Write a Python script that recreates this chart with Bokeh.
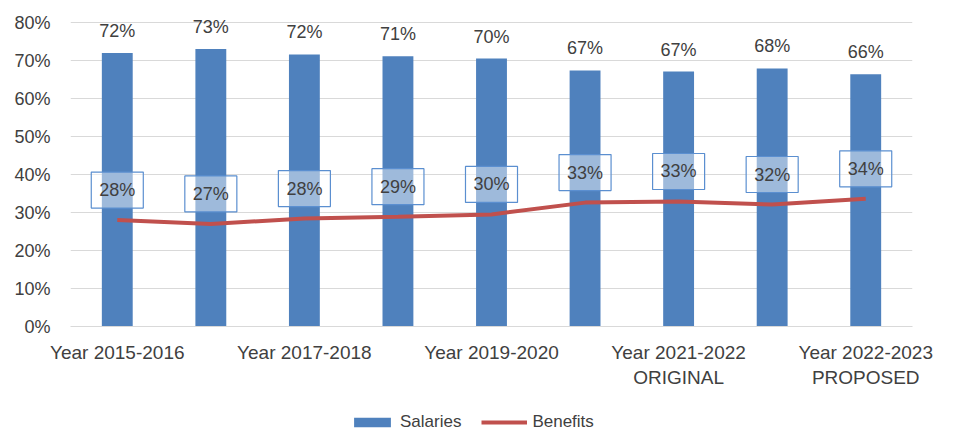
from bokeh.plotting import figure
from bokeh.models import (ColumnDataSource, Range1d, FixedTicker, NumeralTickFormatter,
                          Legend, LegendItem)
from bokeh.layouts import column
from bokeh.core.properties import value
from bokeh.embed import file_html
from bokeh.resources import INLINE

categories = ["Year 2015-2016", "Year 2016-2017", "Year 2017-2018", "Year 2018-2019",
              "Year 2019-2020", "Year 2020-2021", "Year 2021-2022\nORIGINAL",
              "Year 2021-2022\nREVISED", "Year 2022-2023\nPROPOSED"]
shown_labels = ["Year 2015-2016", "", "Year 2017-2018", "", "Year 2019-2020", "",
                "Year 2021-2022\nORIGINAL", "", "Year 2022-2023\nPROPOSED"]
salaries = [0.720, 0.730, 0.716, 0.711, 0.705, 0.674, 0.671, 0.679, 0.664]
benefits = [0.280, 0.270, 0.284, 0.289, 0.295, 0.326, 0.329, 0.321, 0.336]
y_ticks = [0, 0.1, 0.2, 0.3, 0.4, 0.5, 0.6, 0.7, 0.8]

FONT = "Liberation Sans"
TXT = "#404040"
BLUE = "#4f81bd"
RED = "#c0504d"

idx = list(range(len(categories)))
src = ColumnDataSource(dict(
    x=idx, sal=salaries, ben=benefits,
    sal_lbl=[f"{round(v*100):d}%" for v in salaries],
    ben_lbl=[f"{round(v*100):d}%" for v in benefits],
))

# frame extends 12px above the 80% gridline so the top data labels are not clipped
p = figure(width=946, height=408, x_range=Range1d(-0.5, len(categories) - 0.5),
           y_range=Range1d(0, 0.8 + 12 / 380), output_backend="svg", toolbar_location=None,
           min_border_left=70, min_border_right=34, min_border_top=10, min_border_bottom=82)
p.outline_line_color = None
p.background_fill_color = "white"

p.vbar(x="x", top="sal", width=0.33, source=src, fill_color=BLUE, line_color=None)
p.line(x="x", y="ben", source=src, line_color=RED, line_width=4)

p.text(x="x", y="sal", text="sal_lbl", source=src, text_align="center",
       text_baseline="middle", y_offset=-22, text_font=value(FONT),
       text_font_size="18px", text_color=TXT)
p.text(x="x", y="ben", text="ben_lbl", source=src, text_align="center",
       text_baseline="middle", y_offset=-30, text_font=value(FONT),
       text_font_size="18px", text_color=TXT,
       background_fill_color="white", background_fill_alpha=0.45,
       border_line_color="#5b8fd0", border_line_width=1.2,
       padding=8)

p.yaxis.ticker = FixedTicker(ticks=y_ticks)
p.yaxis.formatter = NumeralTickFormatter(format="0%")
p.yaxis.axis_line_color = None
p.yaxis.major_tick_line_color = None
p.yaxis.minor_tick_line_color = None
p.yaxis.major_tick_out = 0
p.yaxis.major_tick_in = 0
p.yaxis.major_label_text_font = FONT
p.yaxis.major_label_text_font_size = "18px"
p.yaxis.major_label_text_color = TXT
p.yaxis.major_label_standoff = 20

p.xaxis.ticker = FixedTicker(ticks=idx)
p.xaxis.major_label_overrides = {i: s for i, s in zip(idx, shown_labels)}
p.xaxis.axis_line_color = "#d9d9d9"
p.xaxis.major_tick_line_color = None
p.xaxis.minor_tick_line_color = None
p.xaxis.major_tick_out = 0
p.xaxis.major_tick_in = 0
p.xaxis.major_label_text_font = FONT
p.xaxis.major_label_text_font_size = "19px"
p.xaxis.major_label_text_color = TXT
p.xaxis.major_label_standoff = 15

p.xgrid.grid_line_color = None
p.ygrid.grid_line_color = "#d9d9d9"
p.ygrid.grid_line_width = 1

# legend strip below the chart; its renderers share the data but lie outside its view
lf = figure(width=946, height=24, output_backend="svg", toolbar_location=None,
            x_range=Range1d(-0.5, len(categories) - 0.5), y_range=Range1d(5, 6),
            min_border_left=0, min_border_right=0, min_border_top=0, min_border_bottom=0)
lf.axis.visible = False
lf.grid.visible = False
lf.outline_line_color = None
lbar = lf.vbar(x="x", top="sal", width=0.33, source=src, fill_color=BLUE, line_color=None)
lline = lf.line(x="x", y="ben", source=src, line_color=RED, line_width=4)
legend = Legend(items=[LegendItem(label="Salaries", renderers=[lbar]),
                       LegendItem(label="Benefits", renderers=[lline])],
                orientation="horizontal", location=(279, 0),
                label_text_font=FONT, label_text_font_size="17px",
                label_text_color=TXT, glyph_width=46, glyph_height=12,
                spacing=20, label_standoff=5, border_line_color=None,
                background_fill_alpha=0, margin=0, padding=2)
lf.add_layout(legend)

open("out.html", "w").write(file_html(column(p, lf), INLINE))
